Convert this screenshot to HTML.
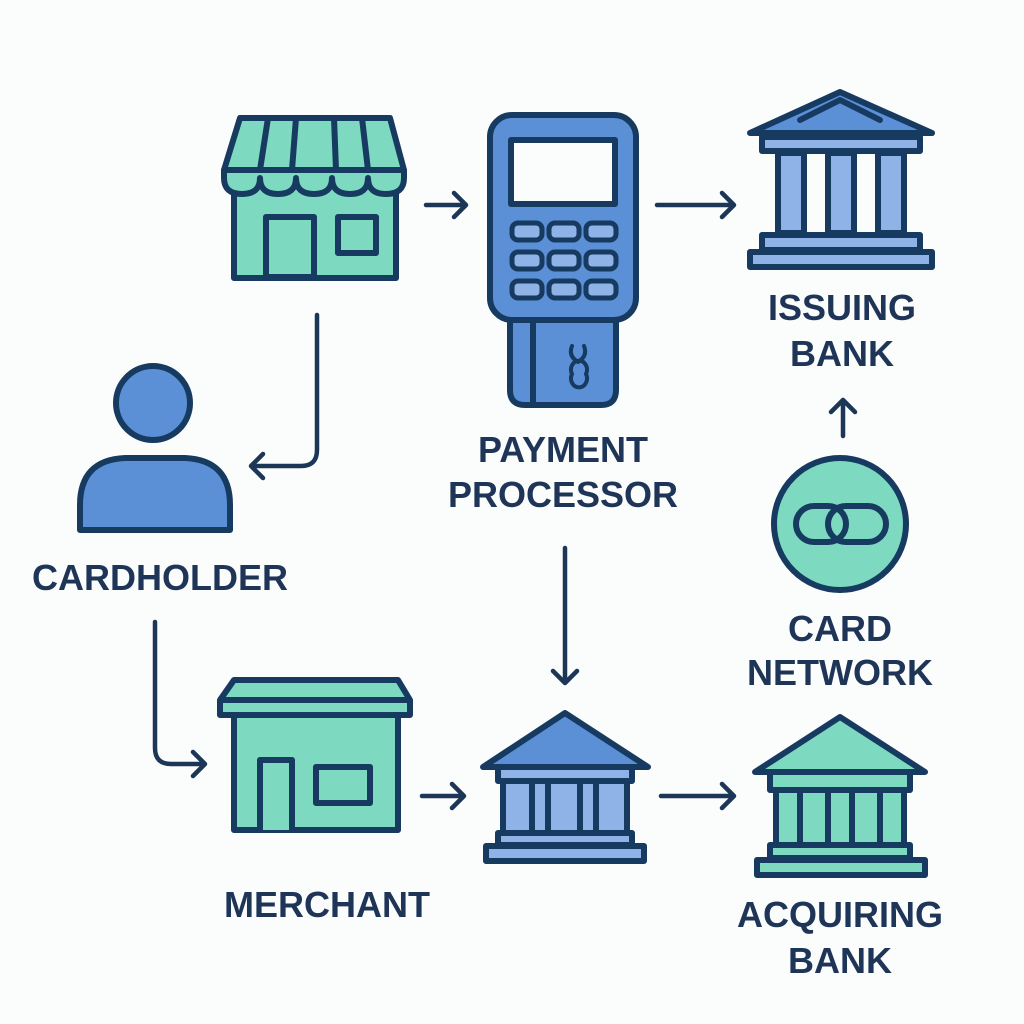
<!DOCTYPE html>
<html><head><meta charset="utf-8"><style>
html,body{margin:0;padding:0;background:#fbfcfc}
svg{display:block}
text{font-family:"Liberation Sans",sans-serif;font-weight:bold;fill:#1e3558;text-anchor:middle;font-size:36px}
</style></head><body>
<svg width="1024" height="1024" viewBox="0 0 1024 1024" xmlns="http://www.w3.org/2000/svg">
<rect width="1024" height="1024" fill="#fbfcfc"/>
<g stroke="#163a60" stroke-width="6" stroke-linejoin="round" stroke-linecap="round">
<!-- Store -->
<rect x="234" y="185" width="162" height="93" fill="#7dd9bf"/>
<path d="M240 118 H390 L404 170 H224 Z" fill="#7dd9bf"/>
<path d="M224 170 H404 V178 Q404 194 386 194 Q368 194 368 178 Q368 194 350 194 Q332 194 332 178 Q332 194 314 194 Q296 194 296 178 Q296 194 278 194 Q260 194 260 178 Q260 194 242 194 Q224 194 224 178 Z" fill="#7dd9bf"/>
<path d="M268 118 L260 170 M296 118 L292 170 M334 118 L336 170 M362 118 L368 170" fill="none"/>
<rect x="266" y="217" width="48" height="60" fill="#7dd9bf"/>
<rect x="338" y="217" width="38" height="36" fill="#7dd9bf"/>
<!-- POS -->
<path d="M510 318 H616 V390 Q616 405 601 405 H525 Q510 405 510 390 Z" fill="#5b8fd6"/>
<line x1="533" y1="322" x2="533" y2="403"/>
<path d="M572 346 Q568 356 578 362 Q588 356 584 346 M572 374 a8 9 0 1 0 14 0 a8 9 0 1 0 -14 0" fill="none" stroke-width="4"/>
<rect x="490" y="115" width="146" height="205" rx="22" fill="#5b8fd6"/>
<rect x="511" y="140" width="104" height="64" fill="#fbfcfc"/>
<g fill="#8fb3e6" stroke-width="5">
<rect x="512" y="223" width="30" height="17" rx="6"/><rect x="549" y="223" width="30" height="17" rx="6"/><rect x="586" y="223" width="30" height="17" rx="6"/>
<rect x="512" y="252" width="30" height="17" rx="6"/><rect x="549" y="252" width="30" height="17" rx="6"/><rect x="586" y="252" width="30" height="17" rx="6"/>
<rect x="512" y="281" width="30" height="17" rx="6"/><rect x="549" y="281" width="30" height="17" rx="6"/><rect x="586" y="281" width="30" height="17" rx="6"/>
</g>
<!-- Issuing bank -->
<path d="M840 92 L932 133 H750 Z" fill="#5b8fd6"/>
<path d="M800 120 L840 100 L880 120" fill="none"/>
<rect x="762" y="137" width="158" height="14" fill="#8fb3e6"/>
<rect x="778" y="153" width="26" height="80" fill="#8fb3e6"/>
<rect x="828" y="153" width="26" height="80" fill="#8fb3e6"/>
<rect x="878" y="153" width="26" height="80" fill="#8fb3e6"/>
<rect x="762" y="235" width="158" height="15" fill="#8fb3e6"/>
<rect x="750" y="252" width="182" height="15" fill="#8fb3e6"/>
<!-- Cardholder -->
<circle cx="153" cy="403" r="37" fill="#5b8fd6"/>
<path d="M80 530 V505 Q80 460 125 458 H185 Q230 460 230 505 V530 Z" fill="#5b8fd6"/>
<!-- Card network -->
<circle cx="840" cy="524" r="66" fill="#7dd9bf"/>
<rect x="796" y="506" width="50" height="36" rx="18" fill="none"/>
<rect x="828" y="506" width="58" height="36" rx="18" fill="none"/>
<!-- Merchant -->
<rect x="234" y="712" width="164" height="118" fill="#7dd9bf"/>
<path d="M234 680 H398 L410 700 V715 H220 V700 Z" fill="#7dd9bf"/>
<line x1="222" y1="700" x2="408" y2="700"/>
<path d="M260 830 V760 H292 V830" fill="#7dd9bf"/>
<rect x="316" y="767" width="54" height="36" fill="#7dd9bf"/>
<!-- Middle bank -->
<path d="M565 713 L648 767 H483 Z" fill="#5b8fd6"/>
<rect x="498" y="767" width="134" height="14" fill="#8fb3e6"/>
<rect x="503" y="781" width="124" height="52" fill="#8fb3e6"/>
<path d="M532 781 V833 M548 781 V833 M580 781 V833 M596 781 V833"/>
<rect x="498" y="833" width="134" height="12" fill="#8fb3e6"/>
<rect x="486" y="846" width="158" height="15" fill="#8fb3e6"/>
<!-- Acquiring bank -->
<path d="M840 717 L925 772 H755 Z" fill="#7dd9bf"/>
<rect x="770" y="772" width="140" height="18" fill="#7dd9bf"/>
<rect x="776" y="790" width="128" height="55" fill="#7dd9bf"/>
<path d="M800 790 V845 M828 790 V845 M852 790 V845 M880 790 V845"/>
<rect x="770" y="845" width="140" height="13" fill="#7dd9bf"/>
<rect x="757" y="860" width="168" height="15" fill="#7dd9bf"/>
</g>
<!-- connectors -->
<g stroke="#1c3657" stroke-width="4.5" fill="none" stroke-linecap="round" stroke-linejoin="round">
<path d="M426 205 H466 M454 193 L466 205 L454 217"/>
<path d="M657 205 H734 M722 193 L734 205 L722 217"/>
<path d="M317 315 V450 Q317 466 301 466 H251 M263 454 L251 466 L263 478"/>
<path d="M155 622 V748 Q155 764 171 764 H205 M193 752 L205 764 L193 776"/>
<path d="M422 796 H464 M452 784 L464 796 L452 808"/>
<path d="M565 548 V683 M553 671 L565 683 L577 671"/>
<path d="M661 796 H734 M722 784 L734 796 L722 808"/>
<path d="M843 436 V400 M831 412 L843 400 L855 412"/>
</g>
<text x="842" y="320">ISSUING</text>
<text x="842" y="366">BANK</text>
<text x="563" y="462">PAYMENT</text>
<text x="563" y="507">PROCESSOR</text>
<text x="160" y="590">CARDHOLDER</text>
<text x="840" y="641">CARD</text>
<text x="840" y="685">NETWORK</text>
<text x="327" y="917">MERCHANT</text>
<text x="840" y="927">ACQUIRING</text>
<text x="840" y="973">BANK</text>
</svg>
</body></html>
